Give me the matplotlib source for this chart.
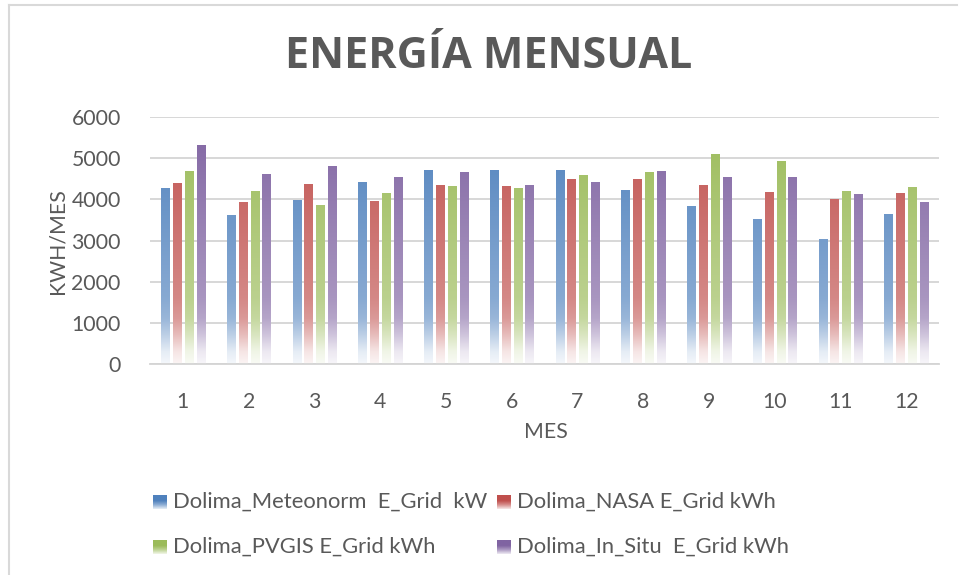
import numpy as np
import matplotlib
matplotlib.use("Agg")
import matplotlib.pyplot as plt
from matplotlib.colors import to_rgb
from matplotlib.lines import Line2D

months = ["1", "2", "3", "4", "5", "6", "7", "8", "9", "10", "11", "12"]
meteonorm = [4255, 3600, 3965, 4400, 4695, 4695, 4695, 4205, 3820, 3505, 3020, 3625]
nasa = [4385, 3915, 4355, 3940, 4330, 4305, 4475, 4475, 4330, 4160, 3990, 4135]
pvgis = [4670, 4185, 3845, 4135, 4305, 4255, 4570, 4645, 5080, 4910, 4185, 4280]
in_situ = [5305, 4595, 4790, 4525, 4645, 4330, 4400, 4670, 4525, 4525, 4110, 3915]
series_names = ["Dolima_Meteonorm  E_Grid  kW", "Dolima_NASA E_Grid kWh",
                "Dolima_PVGIS E_Grid kWh", "Dolima_In_Situ  E_Grid kWh"]
series_colors = ["#4F81BD", "#C0504D", "#9BBB59", "#8064A2"]
yticks = [0, 1000, 2000, 3000, 4000, 5000, 6000]

TXT = "#595959"
FONT = "Lato"
FS = 15.3
LFS = 15.8
W, H = 959, 575
fig = plt.figure(figsize=(W / 100, H / 100), dpi=100)
ax = fig.add_axes([150 / W, 1 - 364 / H, (939 - 150) / W, (364 - 117) / H])

# chart border (left and top visible)
fig.add_artist(Line2D([9 / W, 957 / W], [1 - 5 / H, 1 - 5 / H], color="#d9d9d9", lw=1.5))
fig.add_artist(Line2D([9 / W, 9 / W], [0, 1 - 5 / H], color="#d9d9d9", lw=1.5))

x = np.arange(len(months))
pitch = 0.18
width = 0.122
data = [meteonorm, nasa, pvgis, in_situ]


def gradient(color, h, n=200):
    y = np.linspace(0, h, n)
    w = np.interp(y, [0, 300, 700, 1100, 1600, 6000], [0.94, 0.85, 0.62, 0.42, 0.32, 0.0])
    top = np.clip((h - y) / max(h, 1), 0, 1)
    w = np.maximum(w, 0.24 * np.clip(top / 0.7, 0, 1) ** 1.2 * (y > 1500))
    c = np.array(to_rgb(color))
    rgb = c[None, :] * (1 - w[:, None]) + w[:, None]
    return rgb[:, None, :]


for i, (vals, col) in enumerate(zip(data, series_colors)):
    bars = ax.bar(x + (i - 1.5) * pitch, vals, width, color="none", zorder=2)
    for r in bars:
        h = r.get_height()
        ax.imshow(gradient(col, h), extent=[r.get_x(), r.get_x() + r.get_width(), 0, h],
                  origin="lower", aspect="auto", zorder=2, interpolation="bilinear")

ax.set_xlim(-0.5, len(months) - 0.5)
ax.set_ylim(0, 6000)
ax.set_yticks(yticks)
ax.set_yticklabels([str(v) for v in yticks], fontsize=FS, color=TXT, family=FONT)
ax.set_xticks(x)
ax.set_xticklabels(months, fontsize=FS, color=TXT, family=FONT)
ax.tick_params(axis="y", length=0, pad=21)
ax.tick_params(axis="x", length=0, pad=20)
ax.grid(axis="y", color="#d4d4d4", lw=1.3, zorder=0)
ax.set_axisbelow(True)
for s in ["top", "right", "left"]:
    ax.spines[s].set_visible(False)
ax.spines["bottom"].set_color("#d4d4d4")
ax.spines["bottom"].set_linewidth(1.3)

fig.text(488.5 / W, 1 - 57 / H, "ENERGÍA MENSUAL", ha="center", va="center",
         fontsize=31, fontweight="bold", color=TXT, family="Open Sans")
fig.text(57 / W, 1 - 241 / H, "KWH/MES", rotation=90, ha="center", va="center",
         fontsize=FS, color=TXT, family=FONT)
fig.text(545.5 / W, 1 - 432 / H, "MES", ha="center", va="center",
         fontsize=FS, color=TXT, family=FONT)

# legend (2 x 2, row-major like the original)
leg_x = [153, 497]
leg_y = [502, 547]
for k, (name, col) in enumerate(zip(series_names, series_colors)):
    cx = leg_x[k % 2]
    cy = leg_y[k // 2]
    lax = fig.add_axes([cx / W, 1 - (cy + 7) / H, 14 / W, 14 / H])
    c = np.array(to_rgb(col))
    wv = np.interp(np.linspace(0, 1, 30), [0, 0.3, 0.6, 1], [0.85, 0.35, 0.0, 0.0])
    lax.imshow((c[None, :] * (1 - wv[:, None]) + wv[:, None])[:, None, :],
               origin="lower", aspect="auto", extent=[0, 1, 0, 1])
    lax.set_axis_off()
    fig.text((cx + 20) / W, 1 - cy / H, name, ha="left", va="center",
             fontsize=LFS, color=TXT, family=FONT)

fig.savefig("out.png", dpi=100)
